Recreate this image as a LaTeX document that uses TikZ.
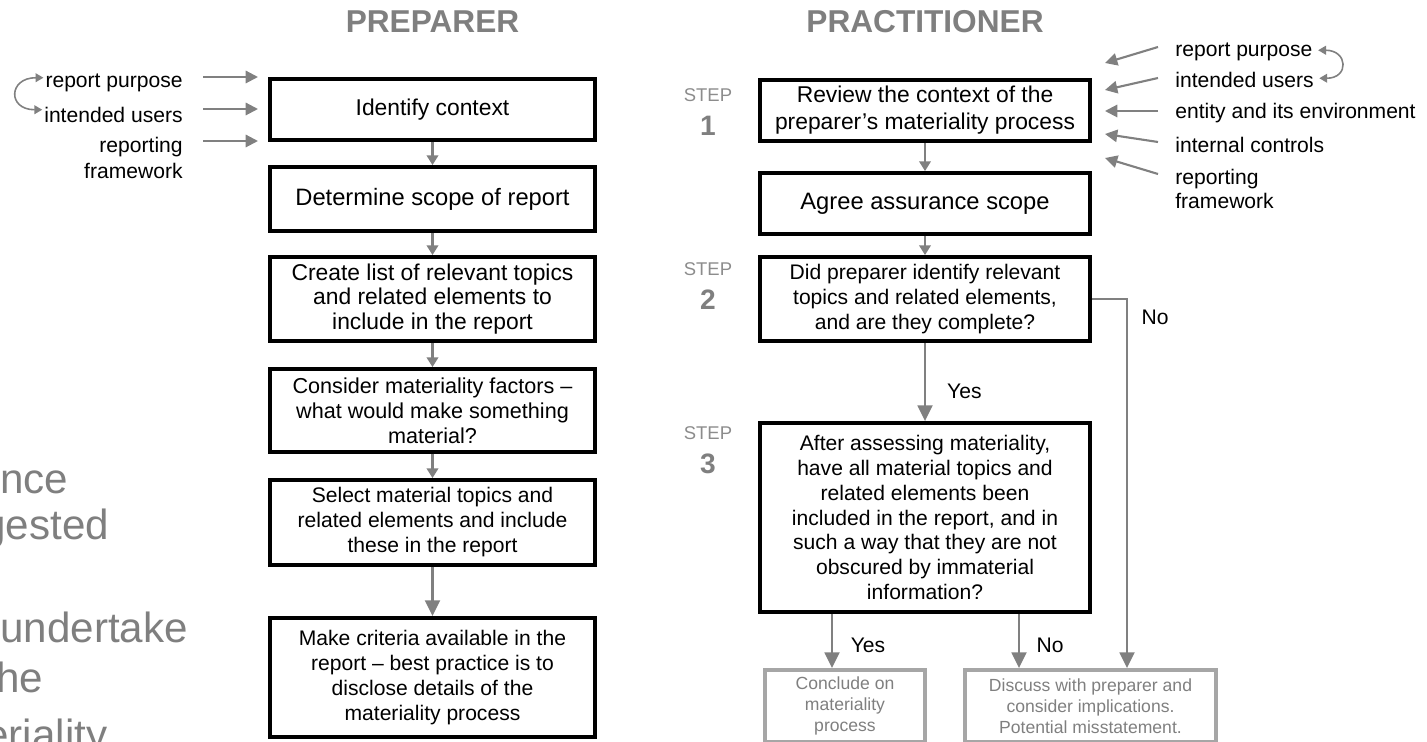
\documentclass[tikz,border=0pt]{standalone}
\usepackage{fontspec}
\setmainfont{Liberation Sans}
\usetikzlibrary{arrows.meta}
\definecolor{arrowgray}{HTML}{808080}
\definecolor{headgray}{HTML}{7F7F7F}
\definecolor{stepgray}{HTML}{8C8C8C}
\definecolor{boxgray}{HTML}{A6A6A6}
\begin{document}
\begin{tikzpicture}[x=0.02cm,y=-0.02cm,
    box/.style={draw=black,line width=2.2pt,align=center,inner sep=0pt},
    lbox/.style={box,minimum width=6.5cm},
    rbox/.style={box,minimum width=6.6cm},
    gbox/.style={draw=boxgray,line width=2.2pt,align=center,inner sep=0pt,text=headgray,font=\fontsize{10}{12}\selectfont},
    flow/.style={draw=arrowgray,line width=1.2pt,-{Triangle[length=5.5pt,width=6.5pt]}},
    inflow/.style={draw=arrowgray,line width=1.2pt,-{Triangle[length=7pt,width=7pt]}},
    bigflow/.style={draw=arrowgray,line width=1.2pt,-{Triangle[length=9pt,width=8.5pt]}},
    loopar/.style={draw=arrowgray,line width=0.9pt,{Triangle[length=4.5pt,width=5pt]}-{Triangle[length=4.5pt,width=5pt]}},
    lab/.style={font=\fontsize{12}{14}\selectfont,inner sep=0pt},
    head/.style={font=\bfseries\fontsize{18}{20}\selectfont,text=headgray},
    steplab/.style={font=\fontsize{10.5}{12}\selectfont,text=stepgray},
    stepnum/.style={font=\bfseries\fontsize{16}{18}\selectfont,text=headgray}]
  \useasboundingbox (0,0) rectangle (1427,742);
  \node[head] (prep) at (432.5,22) {PREPARER};%見出し
  \node[head] (prac) at (925,22) {PRACTITIONER};
  % 左の列
  \node[lbox,minimum height=1.22cm,font=\fontsize{13}{15}\selectfont] (ctx) at (432.5,109.5) {Identify context};
  \node[lbox,minimum height=1.28cm,font=\fontsize{13.5}{15}\selectfont] (scope) at (432.5,199) {Determine scope of report};
  \node[lbox,minimum height=1.68cm,font=\fontsize{13}{13.8}\selectfont] (list) at (432.5,299) {Create list of relevant topics\\and related elements to\\include in the report};
  \node[lbox,minimum height=1.66cm,font=\fontsize{12.3}{14.2}\selectfont] (factors) at (432.5,410.5) {Consider materiality factors --\\what would make something\\material?};
  \node[lbox,minimum height=1.7cm,font=\fontsize{12}{14.2}\selectfont] (select) at (432.5,522.5) {Select material topics and\\related elements and include\\these in the report};
  \node[lbox,minimum height=2.38cm,font=\fontsize{12}{14.2}\selectfont] (criteria) at (432.5,677.5) {Make criteria available in the\\report -- best practice is to\\disclose details of the\\materiality process};
  \draw[flow] (ctx.south) -- (scope.north);
  \draw[flow] (scope.south) -- (list.north);
  \draw[flow] (list.south) -- (factors.north);
  \draw[flow] (factors.south) -- (select.north);
  \draw[bigflow] (select.south) -- (criteria.north);
  % 左の入力
  \node[lab,anchor=east] (lpur) at (183,83) {report purpose};
  \node[lab,anchor=east] (lusr) at (183,115) {intended users};
  \node[lab,anchor=east,align=right,font=\fontsize{12}{15}\selectfont] (lfw) at (183,158) {reporting\\framework};
  \draw[loopar] ([xshift=-1pt,yshift=3pt]lpur.west) .. controls +(-35,0) and +(-35,0) .. ([xshift=-1pt,yshift=3pt]lusr.west);
  \foreach \y [count=\i] in {77,109,141}{
    \coordinate (lt\i) at (203,\y);
    \coordinate (lh\i) at (258,\y);
    \draw[inflow] (lt\i) -- (lh\i);
  }
  % 右の列
  \foreach \n/\y in {1/95,2/269,3/433}{
    \node[steplab] (step\n) at (708,\y) {STEP};
    \node[stepnum] (num\n) at (708,\y+31) {\n};
  }
  \node[rbox,minimum height=1.22cm,font=\fontsize{13}{15.3}\selectfont] (review) at (925,110.5) {Review the context of the\\preparer’s materiality process};
  \node[rbox,minimum height=1.22cm,font=\fontsize{13.5}{15}\selectfont] (agree) at (925,203.5) {Agree assurance scope};
  \node[rbox,minimum height=1.68cm,font=\fontsize{12}{14.2}\selectfont] (did) at (925,299) {Did preparer identify relevant\\topics and related elements,\\and are they complete?};
  \node[rbox,minimum height=3.78cm,font=\fontsize{12}{14.2}\selectfont] (after) at (925,517.5) {After assessing materiality,\\have all material topics and\\related elements been\\included in the report, and in\\such a way that they are not\\obscured by immaterial\\information?};
  \node[gbox,minimum width=3.2cm,minimum height=1.44cm] (conclude) at (845,706) {Conclude on\\materiality\\process};
  \node[gbox,minimum width=5.02cm,minimum height=1.44cm] (discuss) at (1090.5,706) {Discuss with preparer and\\consider implications.\\Potential misstatement.};
  \draw[flow] (review.south) -- (agree.north);
  \draw[flow] (agree.south) -- (did.north);
  \draw[bigflow] (did.south) -- (after.north) node[lab,pos=0.62,right=12pt] (yes1) {Yes};
  \coordinate (nbend) at (1127,299);
  \draw[bigflow] (did.east) -| (discuss.north -| nbend);
  \node[lab] (no1) at (1155,317) {No};
  \coordinate (yx) at (832,0);
  \coordinate (nx) at (1019,0);
  \draw[bigflow] (after.south -| yx) -- (conclude.north -| yx);
  \draw[bigflow] (after.south -| nx) -- (discuss.north -| nx);
  \node[lab] (yes2) at (868,645) {Yes};
  \node[lab] (no2) at (1050,645) {No};
  % 右の入力
  \node[lab,anchor=west] (rpur) at (1175,52) {report purpose};
  \node[lab,anchor=west] (rusr) at (1175,80) {intended users};
  \node[lab,anchor=west] (rent) at (1175,113) {entity and its environment};
  \node[lab,anchor=west] (rint) at (1175,145) {internal controls};
  \node[lab,anchor=west,align=left,font=\fontsize{12}{13.6}\selectfont] (rfw) at (1175,189) {reporting\\framework};
  \draw[loopar] ([xshift=3pt,yshift=1pt]rpur.east) .. controls +(30,0) and +(30,0) .. ([xshift=3pt,yshift=1pt]rusr.east);
  \foreach \a/\b [count=\i] in {47/63,78/90,111/111,142/134,174/158}{
    \coordinate (rt\i) at (1158,\a);
    \coordinate (rh\i) at (1105,\b);
    \draw[inflow] (rt\i) -- (rh\i);
  }
  % 左端の切れた文字
  \foreach \t/\x/\y [count=\i] in {nce/0/494,gested/-18/540,undertake/0/643,he/-4/693,eriality/-15/750}
    \node[anchor=base west,inner sep=0pt,text=headgray,font=\fontsize{24}{28}\selectfont] (side\i) at (\x,\y) {\t};
\end{tikzpicture}
\end{document}
